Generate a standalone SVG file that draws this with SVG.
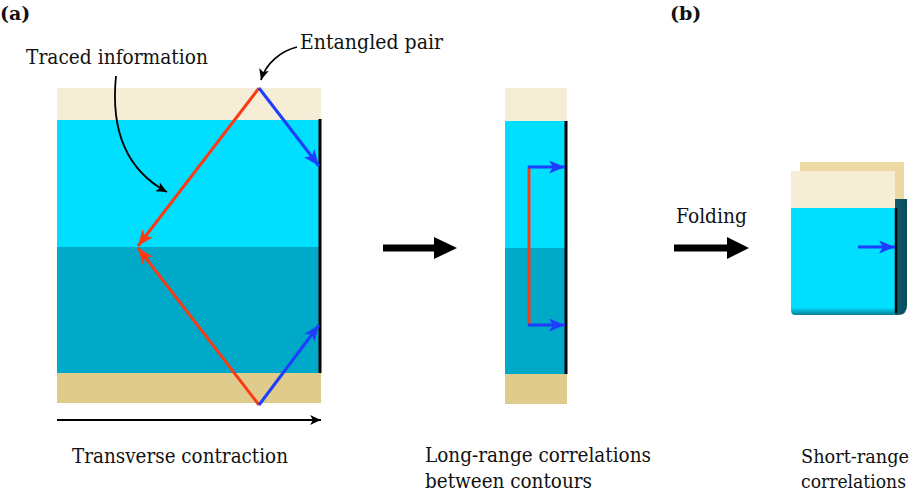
<svg xmlns="http://www.w3.org/2000/svg" width="913" height="493" viewBox="0 0 913 493">
<style>
.lbl{font-family:'DejaVu Serif','Liberation Serif',serif;font-size:20px;fill:#111}
.tag{font-family:'DejaVu Serif','Liberation Serif',serif;font-size:19px;font-weight:bold;fill:#111}
.red{stroke:#fb3a14;stroke-width:3;fill:none}
.blue{stroke:#1f3dff;stroke-width:3;fill:none}
.thin{stroke:#000;stroke-width:1.8;fill:none}
.beige{fill:#f5edd5}
.tan{fill:#dfcb8b}
.lc{fill:#00dfff}
.dc{fill:#00a9c7}
</style>
<defs>
<marker id="hr" markerUnits="userSpaceOnUse" markerWidth="17" markerHeight="13" refX="16" refY="6.5" orient="auto"><path d="M0,0 L16,6.5 L0,13 L4,6.5 z" fill="#fb3a14"/></marker>
<marker id="hb" markerUnits="userSpaceOnUse" markerWidth="17" markerHeight="13" refX="16" refY="6.5" orient="auto"><path d="M0,0 L16,6.5 L0,13 L4,6.5 z" fill="#1f3dff"/></marker>
<marker id="hk" markerUnits="userSpaceOnUse" markerWidth="12" markerHeight="10" refX="11" refY="5" orient="auto"><path d="M0,0 L11,5 L0,10 L3,5 z" fill="#000"/></marker>
<linearGradient id="bot" x1="0" y1="0" x2="0" y2="1"><stop offset="0" stop-color="#00dfff"/><stop offset="0.93" stop-color="#00dfff"/><stop offset="1" stop-color="#0a7d95"/></linearGradient>
<linearGradient id="side" x1="0" y1="0" x2="1" y2="0"><stop offset="0" stop-color="#0b5e70"/><stop offset="1" stop-color="#0a4a58"/></linearGradient>
</defs>
<rect width="913" height="493" fill="#fff"/>

<g id="panel-a">
<text class="tag" x="0" y="20">(a)</text>
<rect class="beige" x="57" y="88" width="264" height="32"/>
<rect class="lc" x="57" y="120" width="264" height="127"/>
<rect class="dc" x="57" y="247" width="264" height="126"/>
<rect class="tan" x="57" y="373" width="264" height="30"/>
<line x1="320" y1="119" x2="320" y2="373" stroke="#000" stroke-width="3"/>
</g>

<g id="label-traced"><text class="lbl" x="26" y="64" textLength="182" lengthAdjust="spacingAndGlyphs">Traced information</text></g>
<g id="label-entangled"><text class="lbl" x="300" y="49" textLength="143" lengthAdjust="spacingAndGlyphs">Entangled pair</text></g>
<g id="label-transverse"><text class="lbl" x="72" y="463" textLength="216" lengthAdjust="spacingAndGlyphs">Transverse contraction</text></g>

<g id="panel-middle">
<rect class="beige" x="505" y="88" width="62" height="33"/>
<rect class="lc" x="505" y="121" width="62" height="127"/>
<rect class="dc" x="505" y="248" width="62" height="126"/>
<rect class="tan" x="505" y="374" width="62" height="30"/>
<line x1="566" y1="121" x2="566" y2="374" stroke="#000" stroke-width="3"/>
<text class="lbl" x="425" y="462" textLength="226" lengthAdjust="spacingAndGlyphs">Long-range correlations</text>
<text class="lbl" x="425" y="488" textLength="167" lengthAdjust="spacingAndGlyphs">between contours</text>
</g>

<g id="panel-b">
<text class="tag" x="670" y="20">(b)</text>
<text class="lbl" x="676" y="223" textLength="71" lengthAdjust="spacingAndGlyphs">Folding</text>
<rect x="800" y="162" width="104" height="40" fill="#ecd9a4"/>
<path d="M895,199 H907 V305 Q907,315 898,315 H895 Z" fill="url(#side)"/>
<path d="M791,208 H895 V315 H795 Q791,315 791,310 Z" fill="url(#bot)"/>
<rect class="beige" x="791" y="171" width="104" height="37"/>
<line x1="896" y1="208" x2="896" y2="313" stroke="#000" stroke-width="2.5"/>
<text class="lbl" x="801" y="463" style="font-size:18px" textLength="108" lengthAdjust="spacingAndGlyphs">Short-range</text>
<text class="lbl" x="801" y="488" style="font-size:18px" textLength="105" lengthAdjust="spacingAndGlyphs">correlations</text>
</g>

<g id="connectors">
<line class="red" x1="259" y1="88" x2="138" y2="246" marker-end="url(#hr)"/>
<line class="red" x1="259" y1="405" x2="138" y2="248" marker-end="url(#hr)"/>
<line class="blue" x1="259" y1="88" x2="319" y2="166" marker-end="url(#hb)"/>
<line class="blue" x1="259" y1="405" x2="319" y2="325" marker-end="url(#hb)"/>
<line class="thin" x1="57" y1="420" x2="321" y2="420" marker-end="url(#hk)"/>
<path class="thin" d="M116,76 C110,135 130,172 167,192" marker-end="url(#hk)"/>
<path class="thin" d="M297,47 C281,51 266,63 261,80" marker-end="url(#hk)"/>
<line x1="529" y1="166" x2="529" y2="326" stroke="#fb3a14" stroke-width="3"/>
<line class="blue" x1="528" y1="167" x2="565" y2="167" marker-end="url(#hb)"/>
<line class="blue" x1="528" y1="325" x2="565" y2="325" marker-end="url(#hb)"/>
<line class="blue" x1="858" y1="247" x2="895" y2="247" marker-end="url(#hb)"/>
<path d="M383,244.5 H434 V237 L457,248 L434,259 V251.5 H383 Z" fill="#000"/>
<path d="M674,244.5 H727 V237 L749,248 L727,259 V251.5 H674 Z" fill="#000"/>
</g>
</svg>
